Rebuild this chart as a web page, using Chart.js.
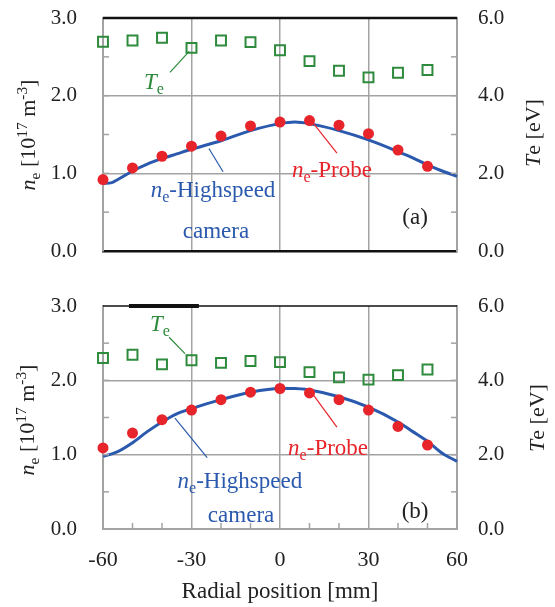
<!DOCTYPE html>
<html><head><meta charset="utf-8">
<script src="https://cdn.jsdelivr.net/npm/chart.js@4"></script>
<style>
body{margin:0;background:#fff;width:555px;height:607px;overflow:hidden;}
.w{position:absolute;left:0;}
canvas{display:block;}
</style></head>
<body>
<div class="w" style="top:0"><canvas id="c1" width="555" height="280"></canvas></div>
<div class="w" style="top:280px"><canvas id="c2" width="555" height="327"></canvas></div>
<script>
// ---------- data ----------
const probeX = [-60,-50,-40,-30,-20,-10,0,10,20,30,40,50];
const neProbeA = [0.92,1.07,1.22,1.35,1.48,1.61,1.66,1.68,1.62,1.51,1.30,1.09];
const teA = [5.39,5.42,5.49,5.23,5.42,5.38,5.17,4.89,4.64,4.47,4.59,4.66];
const neProbeB = [1.09,1.29,1.47,1.60,1.74,1.84,1.89,1.83,1.74,1.60,1.38,1.13];
const teB = [4.60,4.69,4.43,4.54,4.47,4.52,4.49,4.22,4.08,4.02,4.14,4.29];
const camX = [-60,-57,-55,-50,-45,-40,-35,-30,-20,-10,0,5,10,20,30,40,45,50,55,60];
const neCamA = [0.87,0.88,0.92,1.03,1.12,1.19,1.25,1.31,1.42,1.55,1.64,1.66,1.64,1.55,1.43,1.28,1.20,1.11,1.03,0.96];
const neCamB = [0.98,1.01,1.04,1.16,1.31,1.44,1.55,1.62,1.74,1.84,1.89,1.89,1.87,1.78,1.64,1.44,1.31,1.18,1.02,0.91];
const xTickLabels = ['-60','-30','0','30','60'];
const neTickLabels = ['0.0','1.0','2.0','3.0'];
const teTickLabels = ['0.0','2.0','4.0','6.0'];

const FONT = '"Liberation Serif","Times New Roman",serif';
const GRID = '#a3a3a3';
const RED = '#e8242b';
const GREEN = '#2e8a3c';
const BLUE = '#2a59ad';
const NONE = 'rgba(0,0,0,0)';

function pts(xs, ys){ return xs.map((x,i)=>({x:x,y:ys[i]})); }

function rich(ctx, segs, x, y, size, align, color){
  const parts = segs.map(s=>{
    const small = (s[1]==='sub'||s[1]==='sup');
    const fs = small ? size*0.7 : size;
    const font = (s[1]==='i'?'italic ':'') + fs + 'px ' + FONT;
    ctx.font = font;
    return {t:s[0], font:font, w:ctx.measureText(s[0]).width, dy: s[1]==='sub'? size*0.22 : (s[1]==='sup'? -size*0.38 : 0)};
  });
  const tw = parts.reduce((a,p)=>a+p.w,0);
  let cx = align==='center' ? x - tw/2 : (align==='right' ? x - tw : x);
  ctx.fillStyle = color;
  ctx.textBaseline = 'alphabetic';
  ctx.textAlign = 'left';
  const base = y + size*0.33;
  parts.forEach(p=>{ ctx.font = p.font; ctx.fillText(p.t, cx, base + p.dy); cx += p.w; });
}

function line(ctx, x1,y1,x2,y2,color,w){
  ctx.save(); ctx.strokeStyle=color; ctx.lineWidth=w; ctx.beginPath(); ctx.moveTo(x1,y1); ctx.lineTo(x2,y2); ctx.stroke(); ctx.restore();
}

function makePanel(id, cfg){
  const deco = {
    id:'deco',
    afterDraw(chart){
      const ctx = chart.ctx, a = chart.chartArea;
      const xs = chart.scales.x, ys = chart.scales.y, y2 = chart.scales.y2;
      const P = (xv, yv) => [xs.getPixelForValue(xv), ys.getPixelForValue(yv)];
      ctx.save();
      [0.5,1,1.5,2,2.5].forEach(v=>{
        const py = ys.getPixelForValue(v);
        line(ctx, a.left, py, a.left+6, py, GRID, 1.5);
      });
      [1,2,3,4,5].forEach(v=>{
        const py = y2.getPixelForValue(v);
        line(ctx, a.right-6, py, a.right, py, GRID, 1.5);
      });
      if (cfg.bottomTicks){
        [-50,-40,-20,-10,10,20,40,50].forEach(v=>{
          const px = xs.getPixelForValue(v);
          line(ctx, px, a.bottom, px, a.bottom-6, GRID, 1.5);
        });
      }
      line(ctx, a.left, a.top, a.right, a.top, '#111', cfg.topW);
      if (cfg.thickSeg){
        line(ctx, xs.getPixelForValue(cfg.thickSeg[0]), a.top, xs.getPixelForValue(cfg.thickSeg[1]), a.top, '#111', 4);
      }
      ctx.save();
      ctx.translate(cfg.lt[0], cfg.lt[1]); ctx.rotate(-Math.PI/2);
      rich(ctx, [['n','i'],['e','sub'],[' [10',''],['17','sup'],[' m',''],['-3','sup'],[']','']], 0, 0, 22, 'center', '#222');
      ctx.restore();
      ctx.save();
      ctx.translate(cfg.rt[0], cfg.rt[1]); ctx.rotate(-Math.PI/2);
      rich(ctx, [['T','i'],['e [eV]','']], 0, 0, 22, 'center', '#222');
      ctx.restore();
      const an = cfg.ann;
      let p = P(...an.te); rich(ctx, [['T','i'],['e','sub']], p[0], p[1], 23, 'center', GREEN);
      let q1 = P(...an.teL[0]), q2 = P(...an.teL[1]); line(ctx, q1[0],q1[1],q2[0],q2[1], GREEN, 1.2);
      p = P(...an.hs); rich(ctx, [['n','i'],['e','sub'],['-Highspeed','']], p[0], p[1], 23, 'center', BLUE);
      p = P(...an.cam); rich(ctx, [['camera','']], p[0], p[1], 23, 'center', BLUE);
      q1 = P(...an.hsL[0]); q2 = P(...an.hsL[1]); line(ctx, q1[0],q1[1],q2[0],q2[1], BLUE, 1.2);
      p = P(...an.pr); rich(ctx, [['n','i'],['e','sub'],['-Probe','']], p[0], p[1], 23, 'center', RED);
      q1 = P(...an.prL[0]); q2 = P(...an.prL[1]); line(ctx, q1[0],q1[1],q2[0],q2[1], RED, 1.2);
      p = P(...an.lab); rich(ctx, [[cfg.label,'']], p[0], p[1], 23, 'center', '#222');
      ctx.restore();
    }
  };
  return new Chart(document.getElementById(id), {
    type:'scatter',
    data:{datasets:[
      {label:'ne-Probe', data:pts(probeX, cfg.probe), yAxisID:'y', pointStyle:'circle', pointRadius:5.5, pointBackgroundColor:RED, pointBorderColor:RED, pointBorderWidth:0, showLine:false, clip:false},
      {label:'Te', data:pts(probeX, cfg.te), yAxisID:'y2', pointStyle:'rect', pointRadius:7, pointBackgroundColor:NONE, pointBorderColor:GREEN, pointBorderWidth:2, showLine:false, clip:false},
      {label:'ne-Highspeed camera', data:pts(camX, cfg.cam), yAxisID:'y', showLine:true, borderColor:BLUE, borderWidth:3, pointRadius:0, cubicInterpolationMode:'monotone', clip:false}
    ]},
    options:{
      responsive:false, animation:false, devicePixelRatio:1,
      layout:{padding:{top:cfg.padTop, left:0, right:0, bottom:0}},
      plugins:{legend:{display:false}, tooltip:{enabled:false}},
      scales:{
        x:{type:'linear', min:-60, max:60,
          ticks:{stepSize:10, autoSkip:false, maxRotation:0, display:cfg.showX, padding:0, color:'#222', font:{family:FONT,size:22},
            callback:(v)=> (v%30===0 ? xTickLabels[(v+60)/30] : '')},
          grid:{drawTicks:true, tickLength:18, tickColor:NONE, lineWidth:1.5, color:(c)=> (c.tick && c.tick.value%30===0 && Math.abs(c.tick.value)<60) ? GRID : NONE},
          border:{display:true, color:cfg.botColor, width:cfg.botW},
          title:{display:cfg.showX, text:'Radial position [mm]', color:'#222', font:{family:FONT,size:23}, padding:{top:0,bottom:1}},
          afterFit:(s)=>{ s.height = cfg.xh; }
        },
        y:{position:'left', min:0, max:3,
          ticks:{stepSize:0.5, autoSkip:false, padding:0, color:'#222', font:{family:FONT,size:21},
            callback:(v)=> (Number.isInteger(v) ? neTickLabels[v] : '')},
          grid:{drawTicks:true, tickLength:26, tickColor:NONE, lineWidth:1.5, color:(c)=> (c.tick && (c.tick.value===1||c.tick.value===2)) ? GRID : NONE},
          border:{display:true, color:GRID, width:2},
          afterFit:(s)=>{ s.width = 103; }
        },
        y2:{position:'right', min:0, max:6,
          ticks:{stepSize:1, autoSkip:false, padding:0, color:'#222', font:{family:FONT,size:21},
            callback:(v)=> (v%2===0 ? teTickLabels[v/2] : '')},
          grid:{drawTicks:true, tickLength:21, tickColor:NONE, drawOnChartArea:false},
          border:{display:true, color:GRID, width:2},
          afterFit:(s)=>{ s.width = 98; }
        }
      }
    },
    plugins:[deco]
  });
}

makePanel('c1', {
  probe:neProbeA, te:teA, cam:neCamA, padTop:18, xh:29, showX:false,
  botColor:'#111', botW:2.5, topW:2.5, bottomTicks:false, thickSeg:null,
  lt:[28,135], rt:[533,133], label:'(a)',
  ann:{te:[-42.7,2.18], teL:[[-37.3,2.30],[-30.8,2.57]],
       hs:[-22.7,0.79], cam:[-21.7,0.27], hsL:[[-24.1,1.32],[-19.3,1.02]],
       pr:[17.6,1.045], prL:[[11.2,1.65],[19.3,1.26]], lab:[45.8,0.44]}
});
makePanel('c2', {
  probe:neProbeB, te:teB, cam:neCamB, padTop:26, xh:78, showX:true,
  botColor:GRID, botW:2, topW:1.5, bottomTicks:true, thickSeg:[-51.2,-27.5],
  lt:[27,140], rt:[537,138], label:'(b)',
  ann:{te:[-40.7,2.76], teL:[[-37.6,2.58],[-32.2,2.36]],
       hs:[-13.6,0.65], cam:[-13.2,0.19], hsL:[[-35.6,1.49],[-24.7,0.96]],
       pr:[16.3,1.10], prL:[[10.8,1.83],[19.3,1.37]], lab:[45.8,0.25]}
});
</script>
</body></html>
